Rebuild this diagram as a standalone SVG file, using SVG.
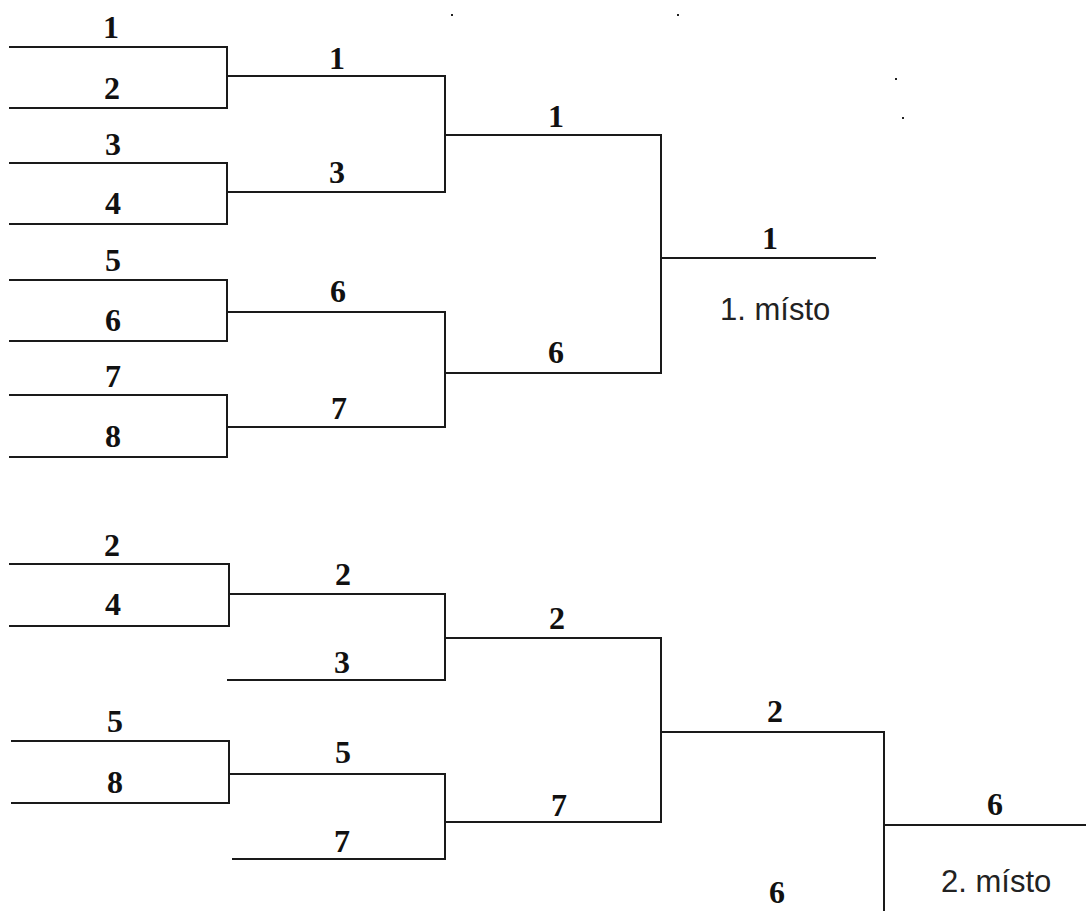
<svg xmlns="http://www.w3.org/2000/svg" width="1086" height="911" viewBox="0 0 1086 911">
<style>
.ln{fill:none;stroke:#1a1a1a;stroke-width:2;stroke-linecap:square}
.n{font-family:"Liberation Serif","Times New Roman",serif;font-weight:bold;font-size:32px;fill:#111;text-anchor:middle}
.p{font-family:"Liberation Sans",Arial,sans-serif;font-size:31px;fill:#222}
.dot{fill:#222}
</style>
<rect width="1086" height="911" fill="#fff"/>
<g id="connectors">
<path class="ln" d="M10 47H227V108H10"/>
<path class="ln" d="M10 163H227V224H10"/>
<path class="ln" d="M10 280H227V341H10"/>
<path class="ln" d="M10 395H227V457H10"/>
<path class="ln" d="M227 76H445V192H227"/>
<path class="ln" d="M227 312H445V427H227"/>
<path class="ln" d="M445 135H661V373H445"/>
<path class="ln" d="M661 258H875"/>
<path class="ln" d="M10 564H229V626H10"/>
<path class="ln" d="M12 741H229V803H12"/>
<path class="ln" d="M229 594H445V680H228"/>
<path class="ln" d="M229 774H445V859H233"/>
<path class="ln" d="M445 638H661V822H445"/>
<path class="ln" d="M661 732H884V911"/>
<path class="ln" d="M884 825H1086"/>
</g>
<g id="dots">
<rect class="dot" x="451" y="14" width="2" height="2"/>
<rect class="dot" x="677" y="14" width="2" height="2"/>
<rect class="dot" x="895" y="78" width="2" height="2"/>
<rect class="dot" x="902" y="117" width="2" height="2"/>
</g>
<g id="top-r1">
<text class="n" x="111" y="38">1</text>
<text class="n" x="112" y="99">2</text>
<text class="n" x="113" y="155">3</text>
<text class="n" x="113" y="214">4</text>
<text class="n" x="113" y="271">5</text>
<text class="n" x="113" y="331">6</text>
<text class="n" x="113" y="387">7</text>
<text class="n" x="113" y="447">8</text>
</g>
<g id="top-r2">
<text class="n" x="337" y="69">1</text>
<text class="n" x="337" y="183">3</text>
<text class="n" x="338" y="302">6</text>
<text class="n" x="339" y="419">7</text>
</g>
<g id="top-r3">
<text class="n" x="556" y="127">1</text>
<text class="n" x="556" y="363">6</text>
</g>
<g id="top-final">
<text class="n" x="770" y="249">1</text>
<text class="p" x="720" y="320">1. místo</text>
</g>
<g id="bottom-r1">
<text class="n" x="112" y="556">2</text>
<text class="n" x="113" y="615">4</text>
<text class="n" x="115" y="732">5</text>
<text class="n" x="115" y="793">8</text>
</g>
<g id="bottom-r2">
<text class="n" x="343" y="585">2</text>
<text class="n" x="342" y="673">3</text>
<text class="n" x="343" y="763">5</text>
<text class="n" x="342" y="852">7</text>
</g>
<g id="bottom-r3">
<text class="n" x="557" y="629">2</text>
<text class="n" x="559" y="816">7</text>
</g>
<g id="bottom-r4">
<text class="n" x="775" y="722">2</text>
<text class="n" x="777" y="903">6</text>
</g>
<g id="bottom-final">
<text class="n" x="995" y="815">6</text>
<text class="p" x="941" y="892">2. místo</text>
</g>
</svg>
